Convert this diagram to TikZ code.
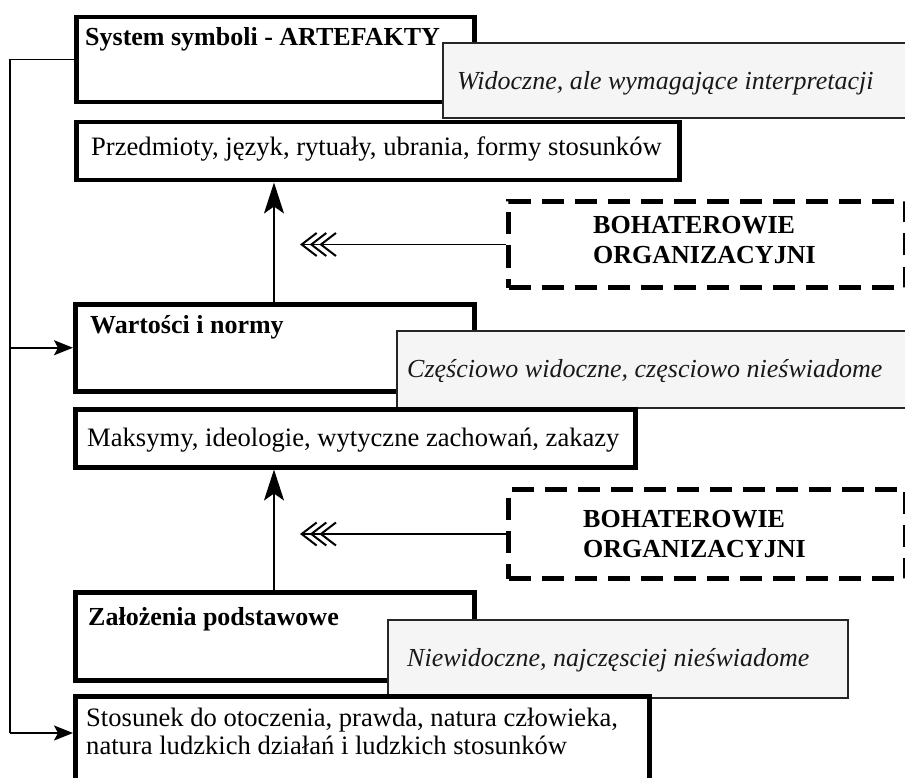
\documentclass[tikz,border=0pt]{standalone}
\usepackage{fontspec}
\setmainfont{Liberation Serif}
\usetikzlibrary{arrows.meta,calc}
\begin{document}
\begin{tikzpicture}[x=1pt,y=-1pt,
  box/.style={draw=black, line width=4.5pt, fill=white, rectangle, anchor=north west, inner sep=0pt},
  callout/.style={draw=black!85, line width=2pt, fill=black!4, rectangle, anchor=north west, inner sep=0pt},
  dbox/.style={draw=black, line width=5pt, dash pattern=on 22pt off 11pt, rectangle, anchor=north west, inner sep=0pt},
  ttl/.style={font=\bfseries\fontsize{26}{30}\selectfont, anchor=base west, inner sep=0pt},
  txt/.style={font=\fontsize{26.6}{30}\selectfont, anchor=base west, inner sep=0pt},
  itx/.style={font=\itshape\fontsize{26}{30}\selectfont, anchor=base west, inner sep=0pt, text=black!90},
  conn/.style={line width=1.5pt},
  upar/.style={conn, -{Stealth[length=31pt,width=20pt,inset=7pt]}},
  sidear/.style={conn, -{Stealth[length=19pt,width=15pt,inset=4pt]}},
  chev/.style={conn, -{Straight Barb[length=15pt,width=23pt,line width=2pt,sep=-8pt]Straight Barb[length=15pt,width=23pt,line width=2pt,sep=-8pt]Straight Barb[length=15pt,width=23pt,line width=2pt]}},
]
\useasboundingbox (0,0) rectangle (905,778);
\fill[white] (0,0) rectangle (905,778);

% level 1
\node[box, minimum width=398pt, minimum height=85pt] (box1) at (74,15) {};
\node[ttl] (t1) at (85,46) {System symboli - ARTEFAKTY};
\node[box, minimum width=603pt, minimum height=58pt] (box2) at (74,120) {};
\node[txt] (t2) at (91,156) {Przedmioty, język, rytuały, ubrania, formy stosunków};
\node[callout, minimum width=470pt, minimum height=75pt] (c1) at (442,42) {};
\node[itx] (ct1) at (457,90) {Widoczne, ale wymagające interpretacji};

% dashed 1
\node[dbox, minimum width=397pt, minimum height=86pt] (d1) at (506,199) {};
\node[ttl] (h1a) at (593,234) {BOHATEROWIE};
\node[ttl] (h1b) at (593,264) {ORGANIZACYJNI};

% level 2
\node[box, minimum width=399pt, minimum height=87pt] (box3) at (73,302) {};
\node[ttl] (t3) at (90,333) {Wartości i normy};
\node[callout, minimum width=520pt, minimum height=77pt] (c2) at (396,330) {};
\node[itx] (ct2) at (407,377) {Częściowo widoczne, częsciowo nieświadome};
\node[box, minimum width=560pt, minimum height=58pt] (box4) at (73,407) {};
\node[txt] (t4) at (87,446) {Maksymy, ideologie, wytyczne zachowań, zakazy};

% dashed 2
\node[dbox, minimum width=397pt, minimum height=89pt] (d2) at (506,487) {};
\node[ttl] (h2a) at (583,527) {BOHATEROWIE};
\node[ttl] (h2b) at (583,557) {ORGANIZACYJNI};

% level 3
\node[box, minimum width=399pt, minimum height=88pt] (box5) at (73,590) {};
\node[ttl] (t5) at (88,625) {Założenia podstawowe};
\node[callout, minimum width=460pt, minimum height=78pt] (c3) at (387,619) {};
\node[itx] (ct3) at (407,666) {Niewidoczne, najczęsciej nieświadome};
\node[box, minimum width=574pt, minimum height=120pt] (box6) at (73,694) {};
\node[txt] (t6a) at (86,726) {Stosunek do otoczenia, prawda, natura człowieka,};
\node[txt] (t6b) at (86,754) {natura ludzkich działań i ludzkich stosunków};

% connectors
\coordinate (ax) at (274,0);
\draw[upar] (box3.north -| ax) -- (box2.south -| ax);
\draw[upar] (box5.north -| ax) -- (box4.south -| ax);
\coordinate (ch1) at (300,0);
\draw[chev] (d1.west) -- (d1.west -| ch1);
\draw[chev] (d2.west) -- (d2.west -| ch1);
\coordinate (rail) at (10,0);
\coordinate (in6) at (73,733);
\draw[conn] (box1.west) -- (box1.west -| rail) -- (in6 -| rail);
\draw[sidear] (in6 -| rail) -- (in6 -| box6.west);
\draw[sidear] (box3.west -| rail) -- (box3.west);
\end{tikzpicture}
\end{document}
